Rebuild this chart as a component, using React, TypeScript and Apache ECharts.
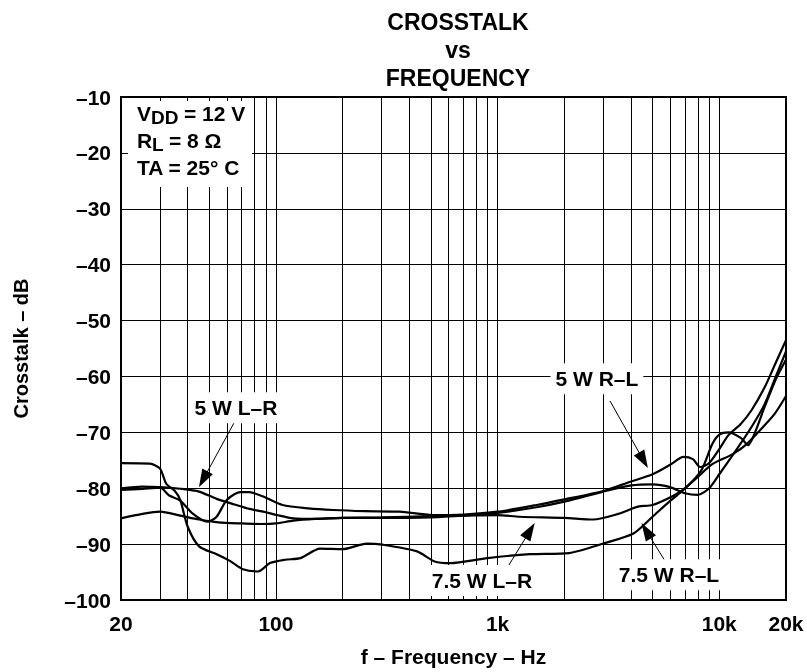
import React, { useEffect, useRef } from "react";
import * as echarts from "echarts";

// ---------- data ----------
const yTickValues = [-100, -90, -80, -70, -60, -50, -40, -30, -20, -10];
const xTickLabels: Record<number, string> = { 20: "20", 100: "100", 1000: "1k", 10000: "10k", 20000: "20k" };
const gridFreqs = [
  30, 40, 50, 60, 70, 80, 90, 100,
  200, 300, 400, 500, 600, 700, 800, 900, 1000,
  2000, 3000, 4000, 5000, 6000, 7000, 8000, 9000, 10000,
];

// 5 W L–R
const lr5Freq = [20, 25, 30, 37, 45, 54, 65, 76, 90, 101, 120, 150, 200, 300, 500, 700, 1000, 1500, 2000, 3000, 4000, 5000, 6000, 7000, 8000, 9000, 10000, 12000, 14000, 16000, 18000, 20000];
const lr5Db = [-80.0, -79.7, -79.8, -80.1, -80.6, -81.9, -82.9, -83.7, -84.3, -84.8, -85.4, -85.5, -85.3, -85.3, -85.2, -84.9, -84.4, -83.4, -82.4, -80.6, -79.5, -79.3, -79.8, -80.9, -81.2, -80.0, -77.5, -73.0, -69.0, -65.0, -60.0, -55.5];

// 5 W R–L
const rl5Freq = [20, 25, 30, 33, 37, 42, 49, 54, 60, 69, 76, 90, 107, 140, 181, 250, 362, 509, 700, 1000, 1500, 2000, 3000, 4000, 5000, 6000, 6900, 7600, 8200, 9000, 10000, 11000, 12500, 14000, 16000, 18000, 20000];
const rl5Db = [-80.3, -80.1, -79.9, -81.3, -82.2, -84.5, -86.0, -85.1, -82.1, -80.7, -80.7, -81.7, -83.0, -83.6, -83.9, -84.1, -84.2, -84.8, -84.7, -84.2, -83.0, -82.0, -80.5, -78.8, -77.5, -75.8, -74.4, -74.8, -76.2, -75.5, -73.0, -70.5, -68.5, -66.0, -62.0, -57.5, -53.5];

// 7.5 W L–R
const lr75Freq = [20, 25, 30, 37, 45, 55, 70, 85, 100, 120, 150, 200, 300, 500, 700, 1000, 1260, 2000, 2700, 3500, 4300, 5000, 6300, 7100, 8300, 9300, 10000, 11000, 12500, 13500, 14500, 16000, 18000, 20000];
const lr75Db = [-85.4, -84.6, -84.2, -84.9, -85.6, -86.1, -86.3, -86.4, -86.3, -85.8, -85.5, -85.3, -85.2, -85.0, -84.9, -84.8, -85.1, -85.3, -85.6, -84.6, -83.3, -83.0, -81.2, -79.8, -76.8, -72.1, -70.4, -70.0, -71.0, -72.3, -70.0, -65.5, -60.5, -57.0];

// 7.5 W R–L
const rl75Freq = [20, 27, 30, 32, 35, 37, 40, 45, 54, 62, 71, 83, 94, 110, 129, 158, 200, 257, 303, 433, 520, 610, 900, 1400, 2100, 3000, 4100, 5000, 5800, 6700, 8000, 9300, 11500, 13300, 15200, 17700, 20000];
const rl75Db = [-75.5, -75.6, -76.5, -79.2, -80.5, -82.1, -86.9, -90.4, -91.8, -93.0, -94.5, -94.9, -93.4, -92.8, -92.5, -90.8, -90.9, -89.9, -90.1, -91.3, -93.1, -93.4, -92.5, -91.8, -91.6, -89.9, -88.1, -85.1, -82.8, -80.7, -78.0, -75.7, -73.9, -72.1, -69.7, -66.8, -63.5];

// annotation labels (data coordinates: [freq, dB])
const labelTexts = ["5 W L–R", "5 W R–L", "7.5 W L–R", "7.5 W R–L"];
const labelAt = [[66, -65.6], [2806, -60.4], [850, -96.5], [5930, -95.5]];
const arrowFrom = [[64.7, -68.3], [3215, -64.4], [1114, -94.0], [5690, -93.0]];
const arrowTo = [[47, -78.4], [4550, -75.0], [1400, -87.6], [4680, -87.6]];

const FONT = '"Liberation Sans", Arial, Helvetica, sans-serif';

export default function App() {
  const ref = useRef<HTMLDivElement>(null);
  useEffect(() => {
    const chart = echarts.init(ref.current!, null, { renderer: "svg" });
    const mk = (name: string, f: number[], v: number[]) => ({
      type: "line",
      name,
      data: f.map((x, i) => [x, v[i]]),
      showSymbol: false,
      symbol: "none",
      smooth: 0.25,
      lineStyle: { color: "#000", width: 2.2 },
      z: 5,
      silent: true,
    });
    const option: any = {
      animation: false,
      title: {
        text: "CROSSTALK\nvs\nFREQUENCY",
        left: 453,
        top: 3,
        textAlign: "center",
        textStyle: { fontFamily: FONT, fontWeight: "bold", fontSize: 23, lineHeight: 28, color: "#000" },
      },
      grid: { left: 121, right: 21, top: 97, bottom: 68, show: true, borderColor: "#000", borderWidth: 2, backgroundColor: "transparent" },
      xAxis: {
        type: "log",
        logBase: 10,
        min: 20,
        max: 20000,
        axisLine: { show: false },
        axisTick: { show: false },
        splitLine: { show: false },
        axisLabel: {
          showMinLabel: true,
          showMaxLabel: true,
          margin: 13,
          color: "#000",
          fontFamily: FONT,
          fontWeight: "bold",
          fontSize: 21,
          formatter: (v: number) => xTickLabels[Math.round(v)] ?? "",
        },
        name: "f – Frequency – Hz",
        nameLocation: "middle",
        nameGap: 46,
        nameTextStyle: { color: "#000", fontFamily: FONT, fontWeight: "bold", fontSize: 21 },
      },
      yAxis: {
        type: "value",
        min: yTickValues[0],
        max: yTickValues[yTickValues.length - 1],
        interval: 10,
        axisLine: { show: false },
        axisTick: { show: false },
        splitLine: { show: true, lineStyle: { color: "#000", width: 1 } },
        axisLabel: {
          margin: 10,
          color: "#000",
          fontFamily: FONT,
          fontWeight: "bold",
          fontSize: 21,
          formatter: (v: number) => String(v).replace("-", "–"),
        },
        name: "Crosstalk – dB",
        nameLocation: "middle",
        nameGap: 90,
        nameTextStyle: { color: "#000", fontFamily: FONT, fontWeight: "bold", fontSize: 20 },
      },
      series: [
        {
          ...mk("5 W L–R", lr5Freq, lr5Db),
          markLine: {
            silent: true,
            symbol: ["none", "none"],
            label: { show: false },
            lineStyle: { color: "#000", width: 1, type: "solid" },
            z: 1,
            data: gridFreqs.map((f) => ({ xAxis: f })),
          },
        },
        mk("5 W R–L", rl5Freq, rl5Db),
        mk("7.5 W L–R", lr75Freq, lr75Db),
        {
          ...mk("7.5 W R–L", rl75Freq, rl75Db),
          markLine: {
            silent: true,
            symbol: ["none", "triangle"],
            symbolSize: [12, 18],
            label: { show: false },
            lineStyle: { color: "#000", width: 1, type: "solid" },
            itemStyle: { color: "#000" },
            z: 20,
            data: arrowFrom.map((a, i) => [{ coord: a }, { coord: arrowTo[i] }]),
          },
        },
      ],
    };
    chart.setOption(option);

    const px = (f: number, v: number) => chart.convertToPixel({ gridIndex: 0 }, [f, v]) as number[];
    const textStyle = { fontFamily: FONT, fontWeight: "bold", fontSize: 21, fill: "#000" };
    const graphics: any[] = labelTexts.map((t, i) => {
      const [x, y] = px(labelAt[i][0], labelAt[i][1]);
      return {
        type: "text",
        x,
        y,
        z: 100,
        style: { ...textStyle, text: t, align: "center", verticalAlign: "middle", backgroundColor: "#fff", padding: [5, 5, 5, 5] },
      };
    });
    // conditions box
    const [bx, by] = px(20, -10);
    graphics.push({ type: "rect", z: 100, shape: { x: bx + 7, y: by + 4, width: 124, height: 86 }, style: { fill: "#fff" } });
    const t = (text: string, x: number, y: number, size = 21) => ({
      type: "text",
      z: 101,
      x: bx + x,
      y: by + y,
      style: { ...textStyle, fontSize: size, text, align: "left", verticalAlign: "top" },
    });
    graphics.push(t("V", 16, 6), t("DD", 30, 11, 19), t("= 12 V", 63, 6));
    graphics.push(t("R", 16, 33), t("L", 31, 38, 19), t("= 8 Ω", 48, 33));
    graphics.push(t("TA = 25° C", 16, 60));
    chart.setOption({ graphic: graphics });

    return () => chart.dispose();
  }, []);
  return <div ref={ref} style={{ position: "fixed", left: 0, top: 0, width: 807, height: 672 }} />;
}
